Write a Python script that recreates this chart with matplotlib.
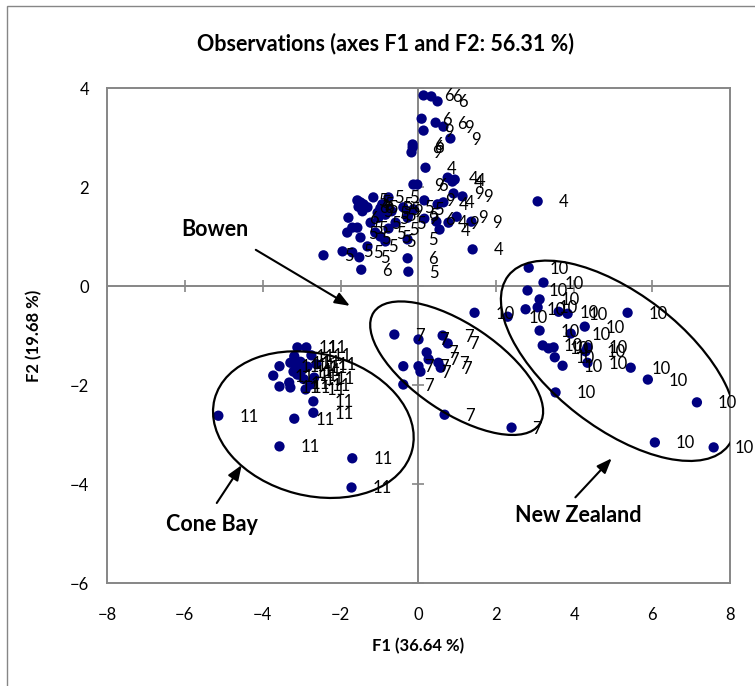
import matplotlib
matplotlib.use("Agg")
import matplotlib.pyplot as plt
from matplotlib.patches import Ellipse, Rectangle
from matplotlib.transforms import ScaledTranslation

plt.rcParams["font.family"] = ["Lato", "DejaVu Sans"]

# PCA scores (F1, F2) per sampling group
g4_x = [0.18, 0.75, 0.87, 0.93, 0.49, 0.64, 0.46, 0.54, 1.39, 3.06]
g4_y = [2.39, 2.19, 2.11, 2.15, 1.65, 1.69, 1.30, 1.14, 0.74, 1.71]

g5_x = [-1.57, -1.49, -1.41, -1.31, -1.44, -1.16, -0.77, -0.93, -0.98, -0.75, -0.85,
        -1.05, -0.39, -0.26, -0.13, -1.23, -1.03, -1.11, -1.70, -1.57, -1.49, -1.83,
        -0.98, -0.85, -0.77, -0.59, -1.31, -0.28, -2.44, -1.95, -1.70, -1.52, -0.26]
g5_y = [1.73, 1.69, 1.65, 1.59, 1.51, 1.79, 1.79, 1.65, 1.57, 1.55, 1.44,
        1.48, 1.59, 1.44, 1.55, 1.28, 1.38, 1.08, 1.18, 1.18, 0.98, 1.08,
        1.00, 0.90, 1.16, 1.28, 0.80, 0.94, 0.62, 0.70, 0.68, 0.58, 0.29]

g6_x = [0.13, 0.33, 0.49, 0.08, 0.44, -0.15, -0.15, -0.03, 0.15, -0.28, -1.80, -1.54, -1.41, -1.47]
g6_y = [3.85, 3.83, 3.73, 3.38, 3.30, 2.86, 2.80, 2.05, 1.36, 0.56, 1.38, 1.60, 1.60, 0.33]

g9_x = [0.64, 0.13, 0.82, -0.18, -0.13, 0.15, 0.90, 1.13, -0.28, 0.77, 0.98, 1.36, -0.69]
g9_y = [3.22, 3.14, 2.98, 2.70, 2.05, 1.73, 1.87, 1.81, 1.38, 1.28, 1.40, 1.30, 1.51]

g7_x = [-0.62, 0.00, 0.62, 0.75, 0.21, 0.26, -0.39, 0.00, 0.05, 0.51, 0.57, -0.39, 0.67, 2.39]
g7_y = [-0.98, -1.08, -1.00, -1.16, -1.34, -1.48, -1.62, -1.62, -1.73, -1.55, -1.65, -1.99, -2.60, -2.86]

g10_x = [1.44, 2.83, 3.21, 2.80, 3.11, 2.75, 3.06, 3.60, 3.83, 2.29, 5.37, 4.27, 3.11, 3.91,
         3.19, 3.34, 3.47, 3.50, 3.70, 4.34, 4.34, 4.29, 5.45, 5.89, 3.52, 7.15, 6.07, 7.58]
g10_y = [-0.54, 0.37, 0.07, -0.09, -0.27, -0.47, -0.43, -0.52, -0.56, -0.62, -0.54, -0.82, -0.90, -0.96,
         -1.20, -1.26, -1.24, -1.44, -1.61, -1.24, -1.55, -1.32, -1.65, -1.89, -2.15, -2.35, -3.16, -3.26]

g11_x = [-3.11, -2.88, -3.19, -3.57, -3.29, -3.16, -3.03, -3.21, -2.85, -3.73, -3.57, -3.32, -3.29,
         -2.90, -3.11, -2.78, -2.70, -2.70, -3.19, -5.14, -3.57, -1.70, -1.72,
         -2.75, -2.62, -2.68, -2.95, -3.00]
g11_y = [-1.24, -1.24, -1.42, -1.62, -1.55, -1.59, -1.53, -1.73, -1.63, -1.81, -2.03, -1.95, -2.05,
         -2.09, -1.79, -1.99, -2.33, -2.56, -2.68, -2.62, -3.24, -3.48, -4.07,
         -1.40, -1.58, -1.85, -1.88, -1.70]

groups = [("4", g4_x, g4_y), ("5", g5_x, g5_y), ("6", g6_x, g6_y), ("9", g9_x, g9_y),
          ("7", g7_x, g7_y), ("10", g10_x, g10_y), ("11", g11_x, g11_y)]

x_ticks = [-8, -6, -4, -2, 0, 2, 4, 6, 8]
y_ticks = [-6, -4, -2, 0, 2, 4]

axis_gray = "#868686"
point_color = "#000080"

fig = plt.figure(figsize=(7.55, 6.86), dpi=100)
ax = fig.add_axes([0.1417, 0.1501, 0.8252, 0.7216])
ax.set_xlim(-8, 8)
ax.set_ylim(-6, 4)

# chart area frame
fig.add_artist(Rectangle((0.0093, -0.5), 2.0, 1.4913, transform=fig.transFigure,
                         fill=False, ec=axis_gray, lw=1.0))

for s in ax.spines.values():
    s.set_color(axis_gray)
    s.set_linewidth(1.4)

ax.set_xticks(x_ticks)
ax.set_yticks(y_ticks)
ax.tick_params(length=0, labelsize=12, colors="black")
ax.tick_params(axis="x", pad=17)
ax.tick_params(axis="y", pad=13)

# axes crossing at the origin, with their tick marks
ax.axhline(0, color=axis_gray, lw=1.4, zorder=1)
ax.axvline(0, color=axis_gray, lw=1.4, zorder=1)
ax.plot(x_ticks, [0] * len(x_ticks), ls="none", marker="|", ms=9, mew=1.2, color=axis_gray, zorder=1)
ax.plot([0] * len(y_ticks), y_ticks, ls="none", marker="_", ms=9, mew=1.2, color=axis_gray, zorder=1)

for name, xs, ys in groups:
    ax.scatter(xs, ys, s=55, color=point_color, edgecolors="none", zorder=3)

for name, xs, ys in groups:
    for x, y in zip(xs, ys):
        ax.annotate(name, (x, y), xytext=(21, -1), textcoords="offset pixels",
                    ha="left", va="center", fontsize=12, zorder=4)

# group ellipses, sized in inches around a data-space centre
def group_ellipse(cx, cy, a, b, angle):
    tr = fig.dpi_scale_trans + ScaledTranslation(cx, cy, ax.transData)
    ax.add_patch(Ellipse((0, 0), 2 * a, 2 * b, angle=angle, transform=tr,
                         fill=False, ec="black", lw=1.6, zorder=5))

group_ellipse(-2.70, -2.80, 1.02, 0.71, -14.5)
group_ellipse(0.98, -1.66, 1.00, 0.44, -34)
group_ellipse(5.13, -1.51, 1.39, 0.67, -37.7)

arrow = dict(arrowstyle="-|>,head_length=0.9,head_width=0.35", color="black", lw=1.5)
ax.annotate("", xy=(-1.70, -0.43), xytext=(-4.24, 0.76), arrowprops=arrow)
ax.annotate("", xy=(-4.50, -3.57), xytext=(-5.22, -4.43), arrowprops=arrow)
ax.annotate("", xy=(5.01, -3.44), xytext=(3.98, -4.31), arrowprops=arrow)

ax.text(-5.22, 1.14, "Bowen", ha="center", va="center", fontsize=15.5, fontweight="bold")
ax.text(-5.30, -4.82, "Cone Bay", ha="center", va="center", fontsize=15.5, fontweight="bold")
ax.text(4.11, -4.64, "New Zealand", ha="center", va="center", fontsize=15.5, fontweight="bold")

fig.text(0.51, 0.936, "Observations (axes F1 and F2: 56.31 %)", ha="center", va="center",
         fontsize=15.5, fontweight="bold")
ax.set_xlabel("F1 (36.64 %)", fontsize=12, fontweight="bold", labelpad=11)
ax.set_ylabel("F2 (19.68 %)", fontsize=12, fontweight="bold", labelpad=20)

fig.savefig("out.png", dpi=100)
